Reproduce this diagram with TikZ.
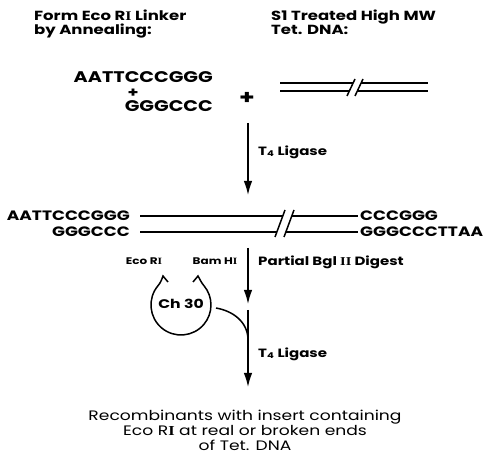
\documentclass[tikz,border=0pt]{standalone}
\usepackage{fontspec}
\setmainfont{Poppins}[FakeStretch=1.25]
\newfontfamily\widefont{Poppins}[FakeStretch=1.25]
\newfontfamily\numeralfont{Liberation Serif}[FakeStretch=1.2]
\usetikzlibrary{positioning,arrows.meta}
\newcommand{\rnum}[1]{{\numeralfont\bfseries #1}}
\tikzset{
    every node/.style={inner sep=0pt},
    heading/.style={anchor=north west,align=left,font=\widefont\fontsize{13.2}{13.5}\selectfont\bfseries},
    seq/.style={font=\fontsize{15.4}{15}\selectfont\bfseries},
    strandseq/.style={font=\fontsize{13.6}{14}\selectfont\bfseries},
    enzyme/.style={anchor=west,font=\fontsize{12}{12}\selectfont\bfseries},
    site/.style={font=\fontsize{9.6}{9.6}\selectfont\bfseries},
    result/.style={align=center,font=\fontsize{13.7}{15}\selectfont},
    strand/.style={line width=1.5pt},
    reaction/.style={line width=1.5pt,-{Latex[length=14pt,width=8.5pt]}}
}

\begin{document}
\begin{tikzpicture}[x=1pt,y=1pt]
    \useasboundingbox (0,0) rectangle (489,460);
    % headings
    \node[heading] (linker) at (34,450) {Form Eco R\rnum{I} Linker\\by Annealing:};
    \node[heading] (tetdna) at (271,450) {S1 Treated High MW\\Tet. DNA:};
    % linker strands
    \node[seq,anchor=east] (topA) at (213,383) {AATTCCCGGG};
    \node[seq,font=\fontsize{14}{14}\selectfont\bfseries] (plusA) at (133,367) {+};
    \node[seq,anchor=east] (botA) at (213,354) {GGGCCC};
    \node[seq,font=\fontsize{20}{20}\selectfont\bfseries] (plusB) at (247,362) {+};
    % high MW DNA
    \coordinate (tetL) at (280,373);
    \coordinate (tetR) at (428,373);
    \draw[strand] ([yshift=4pt]tetL) -- (353,377) (361,377) -- ([yshift=4pt]tetR);
    \draw[strand] ([yshift=-4pt]tetL) -- (349,369) (357,369) -- ([yshift=-4pt]tetR);
    \draw[strand] (347,364) -- (355,381) (355,364) -- (363,381);
    % ligation
    \coordinate (ligA) at (248,337);
    \coordinate (ligB) at (248,265);
    \draw[reaction] (ligA) -- (ligB);
    \node[enzyme] (ligase) at (258,308) {T\textsubscript{4} Ligase};
    % ligated product
    \node[strandseq,anchor=east] (prodTL) at (130,244) {AATTCCCGGG};
    \node[strandseq,anchor=east] (prodBL) at (130,228) {GGGCCC};
    \node[strandseq,anchor=west] (prodTR) at (360,244) {CCCGGG};
    \node[strandseq,anchor=west] (prodBR) at (360,228) {GGGCCCTTAA};
    \draw[strand] ([xshift=10pt]prodTL.east) -- (283,244) (292,244) -- ([xshift=-2pt]prodTR.west);
    \draw[strand] ([xshift=10pt]prodBL.east) -- (277,228) (286,228) -- ([xshift=-2pt]prodBR.west);
    \draw[strand] (275,223) -- (285,250) (284,223) -- (294,250);
    % partial digest
    \coordinate (digA) at (248,212);
    \coordinate (digB) at (248,156);
    \draw[reaction] (digA) -- (digB);
    \node[enzyme] (bgl) at (258,198) {Partial Bgl \rnum{II} Digest};
    % Ch 30 plasmid
    \node[font=\fontsize{12.5}{13}\selectfont\bfseries] (ch) at (181,156) {Ch 30};
    \node[site] (eco) at (144,199) {Eco R\rnum{I}};
    \node[site] (bam) at (215,199) {Bam H\rnum{I}};
    \coordinate (ecoEnd) at (163,184);
    \coordinate (bamEnd) at (198,184);
    \draw[strand] (168,178) -- (ecoEnd) to[out=-110,in=50] (158,174.3)
        arc[start angle=140,end angle=400,radius=30] to[out=130,in=-60] (bamEnd) -- (193,178);
    % second ligation
    \coordinate (ligC) at (248,150);
    \coordinate (ligD) at (248,73);
    \coordinate (join) at (216,152);
    \draw[reaction] (ligC) -- (ligD);
    \draw[strand] (join) to[out=-10,in=90] (248,120);
    \node[enzyme] (ligase2) at (258,106) {T\textsubscript{4} Ligase};
    % result
    \node[result] (recomb) at (245,30) {Recombinants with insert containing\\Eco R\rnum{I} at real or broken ends\\of Tet. DNA};
\end{tikzpicture}
\end{document}
